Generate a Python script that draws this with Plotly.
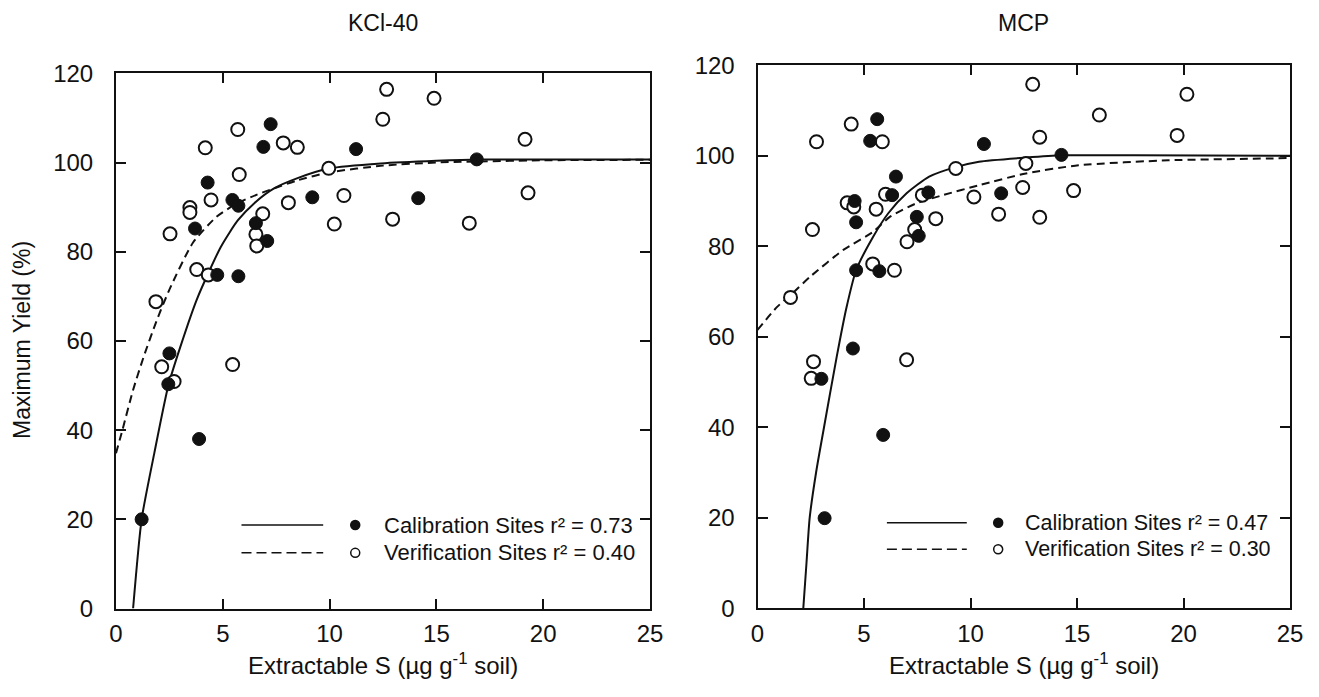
import plotly.graph_objects as go

# ---- KCl-40 extraction ----
kcl_cal_x = [1.20, 2.45, 2.50, 3.89, 3.70, 4.29, 4.74, 5.45, 5.73, 5.73, 6.55, 6.90, 7.08, 7.24, 9.19, 11.24, 14.15, 16.89]
kcl_cal_y = [20.0, 50.3, 57.2, 38.0, 85.2, 95.5, 74.8, 91.6, 90.3, 74.5, 86.4, 103.5, 82.4, 108.6, 92.2, 103.0, 92.0, 100.7]

kcl_ver_x = [1.87, 2.14, 2.72, 2.53, 3.46, 3.46, 3.78, 4.18, 4.32, 4.45, 5.46, 5.70, 5.77, 6.55, 6.59, 6.87, 7.83, 8.07,
             8.49, 9.96, 10.22, 10.67, 12.49, 12.67, 12.95, 14.89, 16.54, 19.15, 19.29]
kcl_ver_y = [68.8, 54.2, 50.9, 84.0, 89.9, 88.8, 76.0, 103.3, 74.8, 91.6, 54.7, 107.4, 97.3, 83.9, 81.3, 88.5, 104.4, 91.0,
             103.4, 98.7, 86.2, 92.6, 109.7, 116.4, 87.3, 114.4, 86.4, 105.2, 93.2]

kcl_cal_fit_x = [0.8, 1.2, 1.8, 2.45, 3.0, 3.8, 4.9, 5.7, 6.5, 7.4, 8.5, 10.0, 12.4, 15.0, 17.0, 25.0]
kcl_cal_fit_y = [0.0, 20.0, 35.0, 50.0, 58.5, 69.5, 81.0, 87.0, 91.0, 94.2, 96.5, 98.7, 99.8, 100.4, 100.7, 100.7]

kcl_ver_fit_x = [0.0, 0.3, 0.8, 1.3, 1.9, 2.5, 3.6, 4.7, 5.65, 6.6, 7.4, 8.5, 10.0, 12.5, 15.0, 20.0, 25.0]
kcl_ver_fit_y = [34.8, 40.0, 49.0, 56.5, 64.5, 71.5, 82.0, 87.8, 90.8, 92.8, 94.2, 96.0, 97.8, 99.3, 100.0, 100.5, 100.6]

# ---- MCP extraction ----
mcp_cal_x = [3.15, 3.00, 4.48, 5.90, 4.63, 5.72, 4.63, 4.56, 5.29, 5.62, 6.50, 6.32, 7.48, 7.57, 8.02, 10.63, 11.44, 14.27]
mcp_cal_y = [19.9, 50.7, 57.4, 38.3, 74.7, 74.5, 85.3, 90.0, 103.3, 108.1, 95.4, 91.3, 86.5, 82.3, 91.9, 102.6, 91.7, 100.2]

mcp_ver_x = [1.55, 2.52, 2.63, 2.58, 2.77, 4.21, 4.40, 4.52, 5.41, 5.57, 5.86, 6.01, 6.43, 7.00, 7.02, 7.38, 7.74, 8.37,
             9.31, 10.16, 11.32, 12.45, 12.60, 12.92, 13.25, 13.25, 14.84, 16.05, 19.70, 20.16]
mcp_ver_y = [68.7, 50.8, 54.5, 83.7, 103.1, 89.6, 107.0, 88.7, 76.1, 88.2, 103.1, 91.5, 74.7, 54.9, 81.0, 83.7, 91.3, 86.1,
             97.2, 90.9, 87.1, 93.0, 98.3, 115.8, 104.1, 86.4, 92.3, 109.0, 104.5, 113.6]

mcp_cal_fit_x = [2.15, 2.3, 2.45, 2.75, 3.1, 3.72, 4.17, 4.63, 5.43, 6.14, 7.0, 8.06, 9.3, 10.4, 12.6, 14.3, 17.7, 25.0]
mcp_cal_fit_y = [0.0, 10.0, 20.0, 30.0, 39.4, 55.6, 66.3, 74.7, 82.1, 87.3, 91.7, 95.4, 97.5, 98.7, 99.6, 100.1, 100.1, 100.0]

mcp_ver_fit_x = [0.0, 0.92, 1.55, 2.48, 4.03, 5.43, 6.21, 7.46, 8.71, 10.4, 12.6, 15.07, 19.28, 23.95, 25.0]
mcp_ver_fit_y = [61.5, 66.6, 69.2, 73.3, 79.2, 83.2, 86.5, 89.5, 91.3, 93.5, 96.1, 97.9, 99.0, 99.4, 99.5]

panel_titles = ["KCl-40", "MCP"]
cal_labels = ["Calibration Sites r\u00b2 = 0.73", "Calibration Sites r\u00b2 = 0.47"]
ver_labels = ["Verification Sites r\u00b2 = 0.40", "Verification Sites r\u00b2 = 0.30"]
x_ticks = [0, 5, 10, 15, 20, 25]
y_ticks = [0, 20, 40, 60, 80, 100, 120]

W, H = 1319, 697
FONT = "Liberation Sans, Arial, sans-serif"
INK = "#111111"

fig = go.Figure()

panels = [
    dict(xa="x", ya="y", cal=(kcl_cal_x, kcl_cal_y), ver=(kcl_ver_x, kcl_ver_y),
         calfit=(kcl_cal_fit_x, kcl_cal_fit_y), verfit=(kcl_ver_fit_x, kcl_ver_fit_y)),
    dict(xa="x2", ya="y2", cal=(mcp_cal_x, mcp_cal_y), ver=(mcp_ver_x, mcp_ver_y),
         calfit=(mcp_cal_fit_x, mcp_cal_fit_y), verfit=(mcp_ver_fit_x, mcp_ver_fit_y)),
]

for p in panels:
    fig.add_trace(go.Scatter(x=p["verfit"][0], y=p["verfit"][1], mode="lines", xaxis=p["xa"], yaxis=p["ya"],
                             line=dict(color=INK, width=2, dash="8px,5px", shape="spline", smoothing=0.6),
                             showlegend=False, hoverinfo="skip"))
    fig.add_trace(go.Scatter(x=p["calfit"][0], y=p["calfit"][1], mode="lines", xaxis=p["xa"], yaxis=p["ya"],
                             line=dict(color=INK, width=2, shape="spline", smoothing=0.6),
                             showlegend=False, hoverinfo="skip"))
    fig.add_trace(go.Scatter(x=p["ver"][0], y=p["ver"][1], mode="markers", xaxis=p["xa"], yaxis=p["ya"],
                             marker=dict(symbol="circle", size=13, color="white", line=dict(color=INK, width=2)),
                             showlegend=False))
    fig.add_trace(go.Scatter(x=p["cal"][0], y=p["cal"][1], mode="markers", xaxis=p["xa"], yaxis=p["ya"],
                             marker=dict(symbol="circle", size=13, color=INK, line=dict(color=INK, width=1)),
                             showlegend=False))

axis_common = dict(showgrid=False, zeroline=False, showline=True, linewidth=2, linecolor=INK,
                   mirror="ticks", ticks="inside", ticklen=10, tickwidth=1.5, tickcolor=INK,
                   automargin=False,
                   tickfont=dict(family=FONT, size=24, color=INK))

doms = [
    dict(x=[116 / W, 650 / W], y=[1 - 608.5 / H, 1 - 73.3 / H]),
    dict(x=[757.5 / W, 1290 / W], y=[1 - 608.2 / H, 1 - 65.3 / H]),
]

fig.update_layout(
    width=W, height=H, autosize=False,
    margin=dict(l=0, r=0, t=0, b=0, pad=0),
    paper_bgcolor="white", plot_bgcolor="white",
    showlegend=False,
    xaxis=dict(axis_common, domain=doms[0]["x"], range=[0, 25], tickvals=x_ticks, anchor="y", ticklabelstandoff=3),
    yaxis=dict(axis_common, domain=doms[0]["y"], range=[0, 120], tickvals=y_ticks, anchor="x", ticklabelstandoff=16),
    xaxis2=dict(axis_common, domain=doms[1]["x"], range=[0, 25], tickvals=x_ticks, anchor="y2", ticklabelstandoff=3),
    yaxis2=dict(axis_common, domain=doms[1]["y"], range=[0, 120], tickvals=y_ticks, anchor="x2", ticklabelstandoff=16),
)

annotations = []
shapes = []
legend_geom = [
    dict(line=(0.235, 0.388), mark=0.448, text=0.4975, rows=(0.156, 0.104), size=22),
    dict(line=(0.243, 0.393), mark=0.452, text=0.499, rows=(0.1575, 0.1085), size=21.5),
]
for i, d in enumerate(doms):
    cx = (d["x"][0] + d["x"][1]) / 2
    xref = "x domain" if i == 0 else "x2 domain"
    yref = "y domain" if i == 0 else "y2 domain"
    g = legend_geom[i]
    # panel title
    annotations.append(dict(text=panel_titles[i], x=cx, y=1 - 23 / H, xref="paper", yref="paper",
                            showarrow=False, xanchor="center", yanchor="middle",
                            font=dict(family=FONT, size=23, color=INK)))
    # x-axis title
    annotations.append(dict(text="Extractable S (\u00b5g g<sup>-1</sup> soil)", x=cx, y=1 - 664 / H,
                            xref="paper", yref="paper", showarrow=False, xanchor="center", yanchor="middle",
                            font=dict(family=FONT, size=24, color=INK)))
    # key in the lower right of each panel
    rows = [(g["rows"][0], cal_labels[i], "solid", INK),
            (g["rows"][1], ver_labels[i], "10px,5px", "white")]
    for ry, label, dash, fill in rows:
        shapes.append(dict(type="line", xref=xref, yref=yref, x0=g["line"][0], x1=g["line"][1], y0=ry, y1=ry,
                           line=dict(color=INK, width=1.5, dash=dash)))
        shapes.append(dict(type="circle", xref=xref, yref=yref, xsizemode="pixel", ysizemode="pixel",
                           xanchor=g["mark"], yanchor=ry, x0=-4.5, x1=4.5, y0=-4.5, y1=4.5,
                           fillcolor=fill, line=dict(color=INK, width=1.5)))
        annotations.append(dict(text=label, x=g["text"], y=ry, xref=xref, yref=yref, showarrow=False,
                                xanchor="left", yanchor="middle",
                                font=dict(family=FONT, size=g["size"], color=INK)))

# shared y-axis title
annotations.append(dict(text="Maximum Yield (%)", x=22 / W, y=1 - 340 / H, xref="paper", yref="paper",
                        showarrow=False, textangle=-90, xanchor="center", yanchor="middle",
                        font=dict(family=FONT, size=23, color=INK)))

fig.update_layout(annotations=annotations, shapes=shapes)
fig.write_html("out.html", post_script="document.body.style.margin='0';")
